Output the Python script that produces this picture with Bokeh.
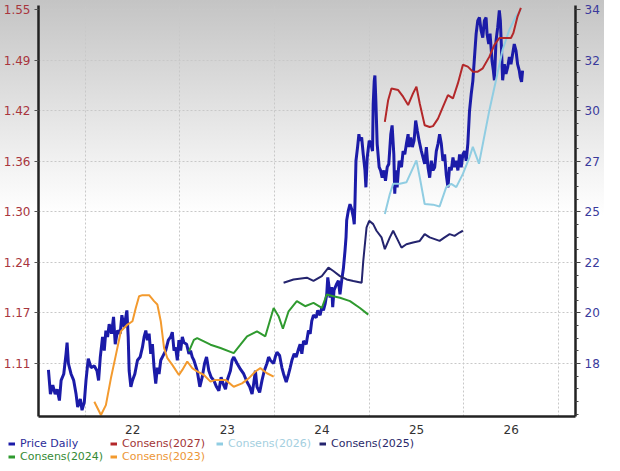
from bokeh.plotting import figure
from bokeh.models import (Range1d, LinearAxis, FixedTicker, Legend, LegendItem)
from bokeh.embed import file_html
from bokeh.resources import INLINE

# ---------------- data ----------------
price_x = [2021.610, 2021.631, 2021.656, 2021.681, 2021.702, 2021.726, 2021.744, 2021.772, 2021.796, 2021.807,
           2021.821, 2021.849, 2021.877, 2021.902, 2021.919, 2021.947, 2021.965, 2021.989, 2022.007, 2022.031,
           2022.060, 2022.095, 2022.123, 2022.140, 2022.158, 2022.182, 2022.200, 2022.217, 2022.235, 2022.252,
           2022.277, 2022.298, 2022.316, 2022.340, 2022.368, 2022.386, 2022.410, 2022.439, 2022.453, 2022.463,
           2022.481, 2022.498, 2022.523, 2022.551, 2022.579, 2022.603, 2022.621, 2022.639, 2022.656, 2022.674,
           2022.691, 2022.709, 2022.726, 2022.744, 2022.761, 2022.779, 2022.797, 2022.814, 2022.849, 2022.877,
           2022.902, 2022.919, 2022.937, 2022.954, 2022.972, 2022.989, 2023.007, 2023.025, 2023.042, 2023.070,
           2023.095, 2023.112, 2023.130, 2023.147, 2023.182, 2023.210, 2023.235, 2023.260, 2023.281, 2023.305,
           2023.330, 2023.358, 2023.386, 2023.411, 2023.435, 2023.456, 2023.481, 2023.498, 2023.533, 2023.551,
           2023.569, 2023.604, 2023.639, 2023.674, 2023.709, 2023.737, 2023.762, 2023.779, 2023.797, 2023.814,
           2023.842, 2023.867, 2023.891, 2023.919, 2023.937, 2023.955, 2023.990, 2024.007, 2024.025, 2024.053,
           2024.077, 2024.095, 2024.123, 2024.148, 2024.165, 2024.183, 2024.207, 2024.228, 2024.253, 2024.270,
           2024.288, 2024.306, 2024.334, 2024.358, 2024.376, 2024.393, 2024.411, 2024.439, 2024.456, 2024.481,
           2024.499, 2024.516, 2024.534, 2024.551, 2024.562, 2024.576, 2024.586, 2024.604, 2024.614, 2024.628,
           2024.656, 2024.674, 2024.691, 2024.709, 2024.727, 2024.744, 2024.755, 2024.762, 2024.779, 2024.797,
           2024.814, 2024.832, 2024.842, 2024.849, 2024.860, 2024.877, 2024.891, 2024.902, 2024.920, 2024.937,
           2024.955, 2024.965, 2024.979, 2025.000, 2025.018, 2025.035, 2025.042, 2025.053, 2025.060, 2025.070,
           2025.084, 2025.105, 2025.120, 2025.137, 2025.155, 2025.172, 2025.190, 2025.207, 2025.228, 2025.242,
           2025.260, 2025.270, 2025.281, 2025.295, 2025.316, 2025.341, 2025.358, 2025.376, 2025.393, 2025.411,
           2025.421, 2025.439, 2025.456, 2025.474, 2025.491, 2025.509, 2025.527, 2025.551, 2025.569, 2025.586,
           2025.604, 2025.621, 2025.639, 2025.656, 2025.674, 2025.692, 2025.709, 2025.727, 2025.744, 2025.762,
           2025.779, 2025.797, 2025.814, 2025.832, 2025.849, 2025.867, 2025.885, 2025.902, 2025.920, 2025.937,
           2025.955, 2025.972, 2025.990, 2026.007, 2026.025, 2026.042, 2026.060, 2026.078, 2026.095, 2026.112,
           2026.130, 2026.147, 2026.165, 2026.182, 2026.200, 2026.217, 2026.235, 2026.245, 2026.263, 2026.277,
           2026.298, 2026.312, 2026.323, 2026.340, 2026.358, 2026.375, 2026.386, 2026.396, 2026.410, 2026.428,
           2026.445, 2026.463, 2026.481, 2026.498, 2026.516, 2026.533, 2026.551, 2026.568, 2026.586, 2026.596,
           2026.610, 2026.621]
price_y = [1.102, 1.072, 1.083, 1.072, 1.078, 1.064, 1.089, 1.097, 1.122, 1.136,
           1.110, 1.097, 1.089, 1.072, 1.056, 1.066, 1.052, 1.062, 1.089, 1.116,
           1.105, 1.107, 1.101, 1.089, 1.118, 1.143, 1.126, 1.151, 1.143, 1.159,
           1.147, 1.168, 1.134, 1.151, 1.147, 1.170, 1.155, 1.176, 1.143, 1.101,
           1.081, 1.089, 1.097, 1.114, 1.118, 1.130, 1.143, 1.151, 1.139, 1.147,
           1.122, 1.134, 1.105, 1.085, 1.105, 1.097, 1.114, 1.118, 1.126, 1.139,
           1.143, 1.149, 1.126, 1.130, 1.114, 1.139, 1.126, 1.143, 1.136, 1.134,
           1.122, 1.126, 1.118, 1.114, 1.101, 1.081, 1.093, 1.110, 1.118, 1.101,
           1.093, 1.089, 1.081, 1.076, 1.093, 1.085, 1.078, 1.089, 1.101, 1.114,
           1.118, 1.110, 1.103, 1.097, 1.087, 1.081, 1.072, 1.085, 1.101, 1.081,
           1.074, 1.089, 1.101, 1.110, 1.118, 1.114, 1.110, 1.118, 1.124, 1.120,
           1.105, 1.097, 1.087, 1.097, 1.105, 1.114, 1.122, 1.118, 1.128, 1.134,
           1.122, 1.138, 1.134, 1.151, 1.147, 1.163, 1.170, 1.167, 1.176, 1.170,
           1.180, 1.176, 1.184, 1.196, 1.217, 1.205, 1.192, 1.205, 1.180, 1.201,
           1.209, 1.213, 1.196, 1.213, 1.228, 1.250, 1.267, 1.288, 1.300, 1.308,
           1.302, 1.292, 1.283, 1.308, 1.362, 1.379, 1.395, 1.387, 1.391, 1.370,
           1.350, 1.329, 1.366, 1.387, 1.383, 1.374, 1.432, 1.461, 1.468, 1.437,
           1.383, 1.354, 1.350, 1.341, 1.350, 1.337, 1.354, 1.358, 1.395, 1.406,
           1.370, 1.321, 1.350, 1.329, 1.362, 1.354, 1.374, 1.370, 1.383, 1.395,
           1.379, 1.391, 1.379, 1.387, 1.412, 1.399, 1.387, 1.374, 1.366, 1.358,
           1.379, 1.354, 1.341, 1.362, 1.350, 1.354, 1.374, 1.383, 1.395, 1.383,
           1.362, 1.370, 1.345, 1.329, 1.354, 1.350, 1.366, 1.354, 1.362, 1.350,
           1.370, 1.354, 1.370, 1.374, 1.362, 1.383, 1.424, 1.445, 1.461, 1.490,
           1.520, 1.536, 1.540, 1.524, 1.515, 1.536, 1.540, 1.520, 1.507, 1.520,
           1.486, 1.474, 1.462, 1.511, 1.528, 1.549, 1.536, 1.507, 1.462, 1.482,
           1.470, 1.478, 1.491, 1.482, 1.495, 1.507, 1.499, 1.482, 1.474, 1.466,
           1.460, 1.474]

c2027_x = [2025.165, 2025.200, 2025.235, 2025.306, 2025.358, 2025.411, 2025.463, 2025.499, 2025.534, 2025.586,
           2025.639, 2025.674, 2025.727, 2025.779, 2025.832, 2025.885, 2025.937, 2025.990, 2026.042, 2026.095,
           2026.147, 2026.200, 2026.270, 2026.323, 2026.375, 2026.498, 2026.523, 2026.568, 2026.603]
c2027_y = [28.92, 29.90, 30.43, 30.36, 30.06, 29.68, 30.21, 30.51, 29.75, 28.77,
           28.69, 28.73, 29.07, 29.60, 30.13, 29.98, 30.66, 31.50, 31.42, 31.19,
           31.19, 31.34, 31.87, 32.40, 32.71, 32.71, 32.93, 33.69, 34.07]

c2026_x = [2025.165, 2025.218, 2025.253, 2025.323, 2025.393, 2025.499, 2025.534, 2025.586, 2025.674, 2025.744,
           2025.814, 2025.867, 2025.920, 2025.990, 2026.060, 2026.095, 2026.160, 2026.270, 2026.340, 2026.410,
           2026.481, 2026.551, 2026.603]
c2026_y = [24.76, 25.66, 26.12, 26.12, 26.19, 27.18, 26.42, 25.21, 25.18, 25.10,
           25.97, 26.12, 25.97, 26.57, 27.33, 27.79, 27.03, 29.45, 30.81, 32.18,
           33.09, 33.69, 33.99]

c2025_x = [2024.095, 2024.200, 2024.341, 2024.411, 2024.499, 2024.569, 2024.621, 2024.691, 2024.762, 2024.832,
           2024.920, 2024.937, 2024.972, 2025.000, 2025.042, 2025.077, 2025.130, 2025.165, 2025.218, 2025.253,
           2025.288, 2025.341, 2025.393, 2025.463, 2025.534, 2025.586, 2025.639, 2025.692, 2025.744, 2025.797,
           2025.850, 2025.902, 2025.955, 2025.990]
c2025_y = [21.65, 21.80, 21.88, 21.73, 21.95, 22.33, 22.18, 21.95, 21.80, 21.73,
           21.65, 22.63, 24.15, 24.45, 24.30, 24.00, 23.70, 23.17, 23.70, 24.00,
           23.70, 23.24, 23.39, 23.47, 23.54, 23.85, 23.70, 23.62, 23.54, 23.70,
           23.85, 23.77, 23.92, 24.00]

c2024_x = [2023.095, 2023.147, 2023.182, 2023.253, 2023.323, 2023.428, 2023.568, 2023.639, 2023.709, 2023.814,
           2023.902, 2023.990, 2024.042, 2024.088, 2024.148, 2024.235, 2024.323, 2024.411, 2024.499, 2024.551,
           2024.621, 2024.691, 2024.797, 2024.902, 2024.990]
c2024_y = [18.55, 19.07, 19.15, 19.00, 18.85, 18.70, 18.47, 18.85, 19.23, 19.45,
           19.23, 20.51, 20.14, 19.57, 20.36, 20.82, 20.59, 20.74, 20.51, 21.12,
           21.04, 20.97, 20.82, 20.51, 20.21]

c2023_x = [2022.095, 2022.165, 2022.217, 2022.270, 2022.323, 2022.375, 2022.445, 2022.498, 2022.533, 2022.568,
           2022.603, 2022.674, 2022.726, 2022.761, 2022.797, 2022.832, 2022.867, 2022.919, 2022.989, 2023.025,
           2023.077, 2023.130, 2023.182, 2023.253, 2023.323, 2023.375, 2023.481, 2023.568, 2023.656, 2023.727,
           2023.797, 2023.849, 2023.919, 2023.990]
c2023_y = [16.27, 15.67, 16.12, 17.33, 18.39, 19.45, 19.76, 19.91, 20.51, 21.04,
           21.09, 21.09, 20.82, 20.67, 19.91, 18.70, 18.24, 17.94, 17.48, 17.71,
           18.09, 17.79, 17.64, 17.48, 17.18, 17.26, 17.26, 16.95, 17.10, 17.33,
           17.64, 17.79, 17.56, 17.41]

x_tick_pos = [2022.5, 2023.5, 2024.5, 2025.5, 2026.5]
x_tick_labels = ["22", "23", "24", "25", "26"]
year_bounds = [2022, 2023, 2024, 2025, 2026, 2027]
left_tick_labels = ["1.11", "1.17", "1.24", "1.30", "1.36", "1.42", "1.49", "1.55"]
right_tick_labels = ["18", "20", "22", "25", "27", "30", "32", "34"]
left_lo, left_hi = 1.11, 1.55
right_lo, right_hi = 18.0, 34.0

legend_labels = ["Price Daily", "Consens(2027)", "Consens(2026)", "Consens(2025)",
                 "Consens(2024)", "Consens(2023)"]

# ---------------- styles ----------------
C_PRICE = "#1b1ba8"
C_2027 = "#b3282a"
C_2026 = "#90cde2"
C_2025 = "#24246e"
C_2024 = "#2f9a2f"
C_2023 = "#f39a2e"
LINE_COLORS = [C_PRICE, C_2027, C_2026, C_2025, C_2024, C_2023]
T_COLORS = ["#2c2c98", "#a23535", "#a4cfe0", "#2a2a6a", "#348a34", "#ec9636"]
FONT = "DejaVu Sans"

n = len(left_tick_labels) - 1
left_ticks = [left_lo + k * (left_hi - left_lo) / n for k in range(n + 1)]
right_ticks = [right_lo + k * (right_hi - right_lo) / n for k in range(n + 1)]
rstep = (right_hi - right_lo) / n / 4
right_minor = [right_lo + k * rstep for k in range(-10, 4 * n + 1)]

y_lo, y_hi = 1.04413, 1.55497
def to_right(v):
    return right_lo + (v - left_lo) / (left_hi - left_lo) * (right_hi - right_lo)

p = figure(width=604, height=436, output_backend="svg", toolbar_location=None,
           x_range=Range1d(2021.505, 2027.18), y_range=Range1d(y_lo, y_hi),
           min_border_left=36, min_border_right=29, min_border_top=5, min_border_bottom=20)
p.extra_y_ranges = {"eps": Range1d(to_right(y_lo), to_right(y_hi))}
p.outline_line_color = None
p.background_fill_color = None
p.border_fill_color = None
p.styles = {"background": "linear-gradient(to bottom, #c4c4c4 0px, #f5f5f5 175px, #ffffff 215px, #ffffff 100%)"}

# axes
p.xaxis.ticker = FixedTicker(ticks=x_tick_pos)
p.xaxis.major_label_overrides = dict(zip(x_tick_pos, x_tick_labels))
p.xaxis.major_tick_line_color = None
p.xaxis.minor_tick_line_color = None
p.xaxis.axis_line_width = 2.5
p.xaxis.axis_line_color = "#222222"
p.xaxis.major_label_text_font = FONT
p.xaxis.major_label_text_font_size = "12px"
p.xaxis.major_label_text_color = "#333333"
p.xaxis.major_label_standoff = 2

p.yaxis.ticker = FixedTicker(ticks=left_ticks)
p.yaxis.major_label_overrides = dict(zip(left_ticks, left_tick_labels))
p.yaxis.minor_tick_line_color = None
p.yaxis.major_tick_in = 0
p.yaxis.major_tick_out = 4
p.yaxis.major_tick_line_color = "#555555"
p.yaxis.axis_line_width = 2.5
p.yaxis.axis_line_color = "#222222"
p.yaxis.major_label_text_font = FONT
p.yaxis.major_label_text_font_size = "12px"
p.yaxis.major_label_text_color = "#a8353d"
p.yaxis.major_label_standoff = 4

raxis = LinearAxis(y_range_name="eps",
                   ticker=FixedTicker(ticks=right_ticks, minor_ticks=right_minor),
                   major_label_overrides=dict(zip(right_ticks, right_tick_labels)))
raxis.axis_line_width = 2.5
raxis.axis_line_color = "#222222"
raxis.major_tick_in = 0
raxis.major_tick_out = 5
raxis.minor_tick_in = 0
raxis.minor_tick_out = 3
raxis.major_tick_line_color = "#444444"
raxis.minor_tick_line_color = "#444444"
raxis.major_label_text_font = FONT
raxis.major_label_text_font_size = "12px"
raxis.major_label_text_color = "#3a3a9c"
raxis.major_label_standoff = 4
p.add_layout(raxis, "right")

# grids
p.xgrid.ticker = FixedTicker(ticks=year_bounds)
p.xgrid.grid_line_color = "#c8c8c8"
p.xgrid.grid_line_dash = "2 2"
p.ygrid.ticker = FixedTicker(ticks=left_ticks)
p.ygrid.grid_line_color = "#c8c8c8"
p.ygrid.grid_line_dash = "2 2"

# lines
p.line(price_x, price_y, line_color=C_PRICE, line_width=3)
p.line(c2023_x, c2023_y, line_color=C_2023, line_width=2, y_range_name="eps")
p.line(c2024_x, c2024_y, line_color=C_2024, line_width=2, y_range_name="eps")
p.line(c2025_x, c2025_y, line_color=C_2025, line_width=2, y_range_name="eps")
p.line(c2026_x, c2026_y, line_color=C_2026, line_width=2, y_range_name="eps")
p.line(c2027_x, c2027_y, line_color=C_2027, line_width=2, y_range_name="eps")

# ---------------- legend strip (separate root, so its frame starts at x=0) ----------------
lg_fig = figure(width=604, height=27, output_backend="svg", toolbar_location=None,
                x_range=Range1d(0, 1), y_range=Range1d(0, 1),
                min_border_left=0, min_border_right=0, min_border_top=0, min_border_bottom=0,
                x_axis_location=None, y_axis_location=None)
lg_fig.grid.visible = False
lg_fig.outline_line_color = None
lg_fig.background_fill_color = None
lg_fig.border_fill_color = None

positions = [(8, 13), (110, 13), (216, 13), (319, 13), (8, 0), (110, 0)]
for lab, lc, tc, loc in zip(legend_labels, LINE_COLORS, T_COLORS, positions):
    proxy = lg_fig.line([0], [0], line_color=lc, line_width=3)
    lg = Legend(items=[LegendItem(label=lab, renderers=[proxy])], location=loc,
                orientation="horizontal", background_fill_alpha=0, border_line_alpha=0,
                padding=0, margin=0, spacing=0, glyph_width=7, glyph_height=13,
                label_height=13, label_standoff=5, label_text_font=FONT,
                label_text_font_size="11px", label_text_color=tc)
    lg_fig.add_layout(lg, "center")

open("out.html", "w").write(file_html([p, lg_fig], INLINE))
